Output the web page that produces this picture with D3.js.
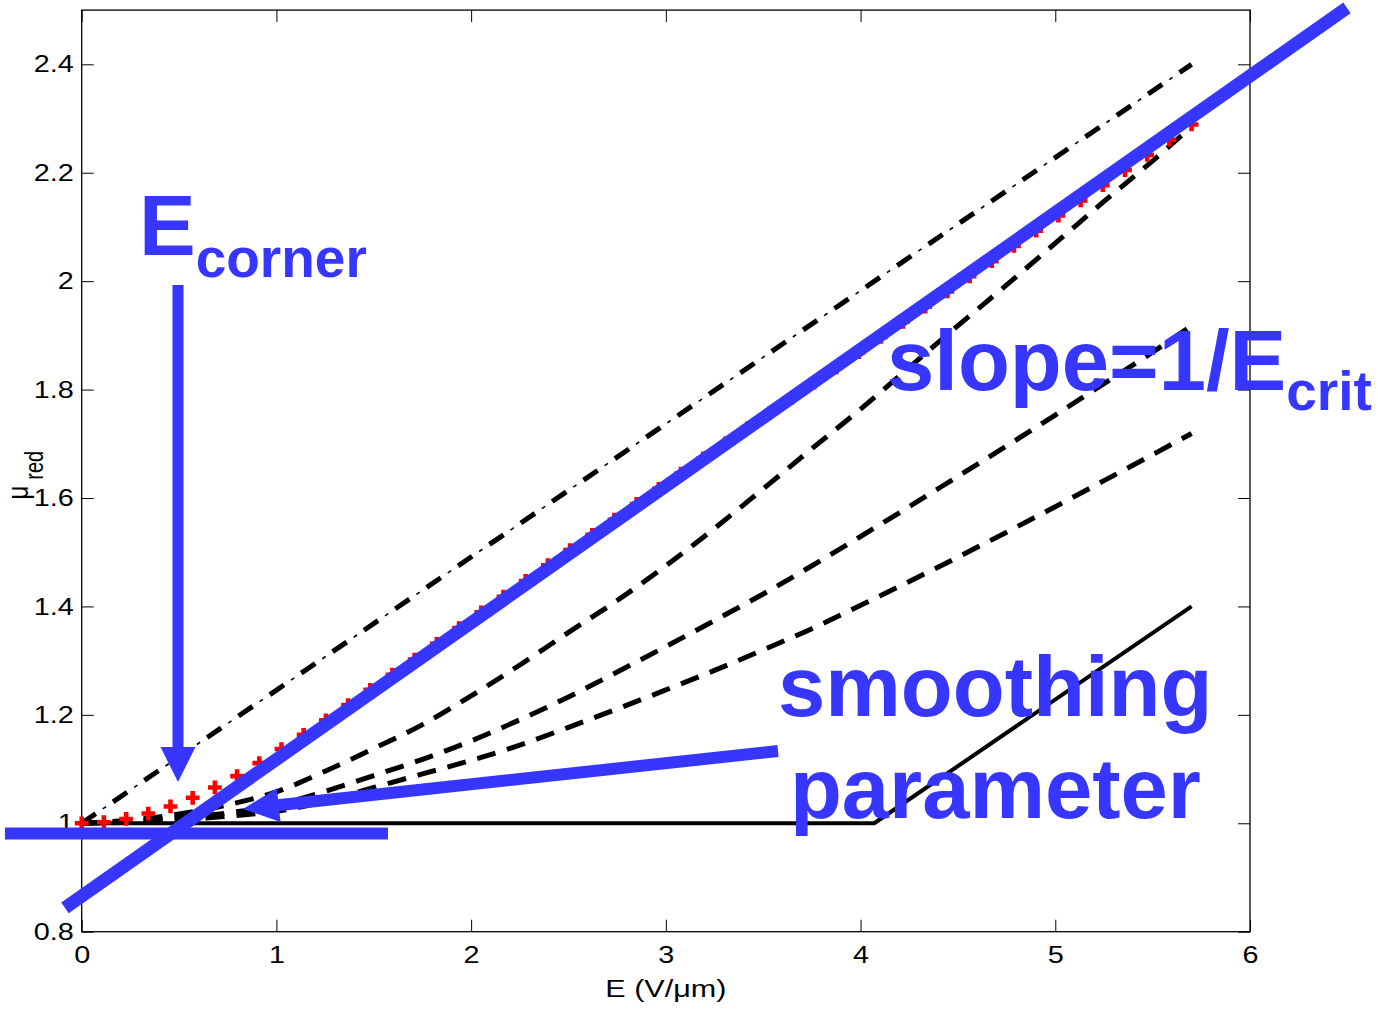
<!DOCTYPE html>
<html>
<head>
<meta charset="utf-8">
<script src="https://cdn.jsdelivr.net/npm/d3@7"></script>
<style>
  html, body { margin: 0; padding: 0; background: #fff; }
  svg { display: block; }
</style>
</head>
<body>
<svg id="chart" width="1378" height="1009"></svg>
<script>
// ---------------- data ----------------
const xTicks = [0, 1, 2, 3, 4, 5, 6];
const yTicks = [0.8, 1.0, 1.2, 1.4, 1.6, 1.8, 2.0, 2.2, 2.4];
const xTickLabels = ["0", "1", "2", "3", "4", "5", "6"];
const yTickLabels = ["0.8", "1", "1.2", "1.4", "1.6", "1.8", "2", "2.2", "2.4"];

// red "+" markers
const E_red = [0, 0.114, 0.228, 0.342, 0.456, 0.57, 0.684, 0.798, 0.912, 1.026,
  1.14, 1.254, 1.368, 1.482, 1.596, 1.71, 1.824, 1.938, 2.052, 2.166,
  2.28, 2.394, 2.508, 2.622, 2.736, 2.85, 2.964, 3.078, 3.192, 3.306,
  3.42, 3.534, 3.648, 3.762, 3.876, 3.99, 4.104, 4.218, 4.332, 4.446,
  4.56, 4.674, 4.788, 4.902, 5.016, 5.13, 5.244, 5.358, 5.472, 5.586, 5.7];
const mu_red = [1.000, 1.002, 1.008, 1.018, 1.031, 1.047, 1.066, 1.087, 1.111, 1.137,
  1.163, 1.190, 1.218, 1.246, 1.274, 1.302, 1.331, 1.360, 1.389, 1.418,
  1.447, 1.476, 1.504, 1.532, 1.560, 1.589, 1.617, 1.645, 1.673, 1.701,
  1.729, 1.757, 1.785, 1.813, 1.841, 1.869, 1.897, 1.925, 1.953, 1.981,
  2.009, 2.037, 2.065, 2.093, 2.121, 2.149, 2.177, 2.205, 2.233, 2.261, 2.289];

// dashed curves (three smoothing parameters)
const E_dash = [0, 0.25, 0.5, 0.75, 1.0, 1.25, 1.5, 1.75, 2.0, 2.25, 2.5, 2.75,
  3.0, 3.25, 3.5, 3.75, 4.0, 4.25, 4.5, 4.75, 5.0, 5.25, 5.5, 5.7];
const mu_dash1 = [1.000, 1.006, 1.017, 1.034, 1.058, 1.096, 1.138, 1.182, 1.235, 1.292, 1.352, 1.411,
  1.475, 1.544, 1.617, 1.691, 1.764, 1.841, 1.918, 1.993, 2.070, 2.147, 2.222, 2.285];
const mu_dash2 = [1.000, 1.004, 1.010, 1.019, 1.034, 1.059, 1.088, 1.118, 1.152, 1.191, 1.233, 1.279,
  1.326, 1.374, 1.423, 1.475, 1.529, 1.584, 1.640, 1.696, 1.753, 1.811, 1.869, 1.918];
const mu_dash3 = [1.000, 1.002, 1.006, 1.013, 1.022, 1.040, 1.066, 1.091, 1.116, 1.144, 1.177, 1.211,
  1.246, 1.282, 1.320, 1.359, 1.402, 1.446, 1.491, 1.537, 1.584, 1.632, 1.680, 1.719];

// solid (sharp corner) and dash-dot (sum) curves
const E_solid = [0, 4.07, 5.7];
const mu_solid = [1.0, 1.0, 1.4];
const E_dashdot = [0, 5.7];
const mu_dashdot = [1.0, 2.4];

// annotation geometry (in data units)
const fitLineE = [-0.086, 6.498];
const fitLineMu = [0.844, 2.504];
const flatLineE = [-0.394, 1.573];
const flatLineMu = [0.981, 0.981];
const arrowDownE = [0.4946, 0.4946];    // tail, tip
const arrowDownMu = [1.993, 1.076];
const arrowDiagE = [3.576, 0.828];      // tail, tip
const arrowDiagMu = [1.1333, 1.0263];

// ---------------- layout ----------------
const svg = d3.select("#chart");
const mLeft = 81.7, mRight = 1250, mTop = 10.1, mBottom = 931.7;
const x = d3.scaleLinear().domain([0, 6]).range([mLeft, mRight]);
const y = d3.scaleLinear().domain([0.8, 2.5]).range([mBottom, mTop]);

const FONT = "'Liberation Sans', Arial, Helvetica, sans-serif";
const BLUE = "#3636FF";
const STRETCH = 1.2;

// frame
svg.append("rect")
  .attr("x", mLeft).attr("y", mTop)
  .attr("width", mRight - mLeft).attr("height", mBottom - mTop)
  .attr("fill", "none").attr("stroke", "#000").attr("stroke-width", 1.3);

const fmtX = d => xTickLabels[xTicks.indexOf(d)];
const fmtY = d => yTickLabels[yTicks.findIndex(v => Math.abs(v - d) < 1e-9)];

const gx = svg.append("g").attr("transform", `translate(0,${mBottom})`)
  .call(d3.axisBottom(x).tickValues(xTicks).tickFormat(fmtX).tickSizeInner(-12).tickSizeOuter(0).tickPadding(14));
const gy = svg.append("g").attr("transform", `translate(${mLeft},0)`)
  .call(d3.axisLeft(y).tickValues(yTicks).tickFormat(fmtY).tickSizeInner(-12).tickSizeOuter(0).tickPadding(8));
const gt = svg.append("g").attr("transform", `translate(0,${mTop})`)
  .call(d3.axisTop(x).tickValues(xTicks).tickFormat("").tickSizeInner(-12).tickSizeOuter(0));
const gr = svg.append("g").attr("transform", `translate(${mRight},0)`)
  .call(d3.axisRight(y).tickValues(yTicks).tickFormat("").tickSizeInner(-12).tickSizeOuter(0));

[gx, gy, gt, gr].forEach(g => {
  g.select(".domain").remove();
  g.selectAll(".tick line").attr("stroke", "#000").attr("stroke-width", 1);
  g.selectAll("text").attr("font-family", FONT).attr("font-size", 24).attr("fill", "#000");
});
gx.selectAll(".tick text").attr("transform", `scale(${STRETCH},1)`);
gy.selectAll(".tick text").attr("x", -8 / STRETCH).attr("transform", `scale(${STRETCH},1)`);

// axis titles
svg.append("text")
  .attr("x", (mLeft + mRight) / 2).attr("y", 996.5)
  .attr("text-anchor", "middle")
  .attr("font-family", FONT).attr("font-size", 23)
  .attr("textLength", 121).attr("lengthAdjust", "spacingAndGlyphs")
  .text("E (V/\u03BCm)");

const yl = svg.append("g").attr("transform", `translate(27.5,499.5) scale(1.25,1) rotate(-90)`)
  .append("text").attr("font-family", FONT).attr("font-size", 24).attr("fill", "#000");
yl.append("tspan").text("\u03BC");
yl.append("tspan").attr("dx", 6).attr("dy", 12.5).attr("font-size", 20).text("red");

// ---------------- curves ----------------
const line = d3.line().x(d => x(d[0])).y(d => y(d[1]));
const lineSmooth = d3.line().x(d => x(d[0])).y(d => y(d[1])).curve(d3.curveMonotoneX);
const zip = (a, b) => a.map((v, i) => [v, b[i]]);

const curves = svg.append("g").attr("fill", "none").attr("stroke", "#000");

curves.append("path").attr("d", line(zip(E_solid, mu_solid)))
  .attr("stroke-width", 4).attr("stroke-linejoin", "round");

[mu_dash1, mu_dash2, mu_dash3].forEach(mu => {
  curves.append("path").attr("d", lineSmooth(zip(E_dash, mu)))
    .attr("stroke-width", 5).attr("stroke-dasharray", "19,12");
});

// dash-dot: thick dashes + thin dots
const ddPath = line(zip(E_dashdot, mu_dashdot));
curves.append("path").attr("d", ddPath).attr("stroke-width", 5).attr("stroke-dasharray", "17,21");
curves.append("path").attr("d", ddPath).attr("stroke-width", 1.6).attr("stroke-dasharray", "0,25.5,4,8.5");

// red plus markers
svg.append("g").selectAll("path").data(zip(E_red, mu_red)).join("path")
  .attr("transform", d => `translate(${x(d[0])},${y(d[1])})`)
  .attr("d", d3.symbol(d3.symbolCross, 105))
  .attr("fill", "#ff0000");

// ---------------- blue annotations ----------------
const ann = svg.append("g");
ann.append("line")
  .attr("x1", x(fitLineE[0])).attr("y1", y(fitLineMu[0]))
  .attr("x2", x(fitLineE[1])).attr("y2", y(fitLineMu[1]))
  .attr("stroke", BLUE).attr("stroke-width", 13);
ann.append("line")
  .attr("x1", x(flatLineE[0])).attr("y1", y(flatLineMu[0]))
  .attr("x2", x(flatLineE[1])).attr("y2", y(flatLineMu[1]))
  .attr("stroke", BLUE).attr("stroke-width", 12);

function arrow(Es, Mus, shaftW, headL, headHW) {
  const x0 = x(Es[0]), y0 = y(Mus[0]), x1 = x(Es[1]), y1 = y(Mus[1]);
  const L = Math.hypot(x1 - x0, y1 - y0);
  const ux = (x1 - x0) / L, uy = (y1 - y0) / L;
  const px = -uy, py = ux;
  const bx = x1 - ux * headL, by = y1 - uy * headL;
  ann.append("line").attr("x1", x0).attr("y1", y0).attr("x2", bx + ux * 1).attr("y2", by + uy * 1)
    .attr("stroke", BLUE).attr("stroke-width", shaftW);
  ann.append("path")
    .attr("d", `M${x1},${y1}L${bx + px * headHW},${by + py * headHW}L${bx - px * headHW},${by - py * headHW}Z`)
    .attr("fill", BLUE);
}
arrow(arrowDownE, arrowDownMu, 11, 35, 17.5);
arrow(arrowDiagE, arrowDiagMu, 12, 36, 17);

function label(E, mu, main, sub, subDy) {
  const t = ann.append("text")
    .attr("x", x(E)).attr("y", y(mu))
    .attr("font-family", FONT).attr("font-weight", "bold").attr("font-size", 85)
    .attr("fill", BLUE);
  t.append("tspan").text(main);
  if (sub) t.append("tspan").attr("dy", subDy).attr("font-size", 55).text(sub);
}
label(0.294, 2.048, "E", "corner", 22);
label(4.136, 1.799, "slope=1/E", "crit", 20);
label(3.576, 1.198, "smoothing", null, 0);
label(3.637, 1.010, "parameter", null, 0);
</script>
</body>
</html>
